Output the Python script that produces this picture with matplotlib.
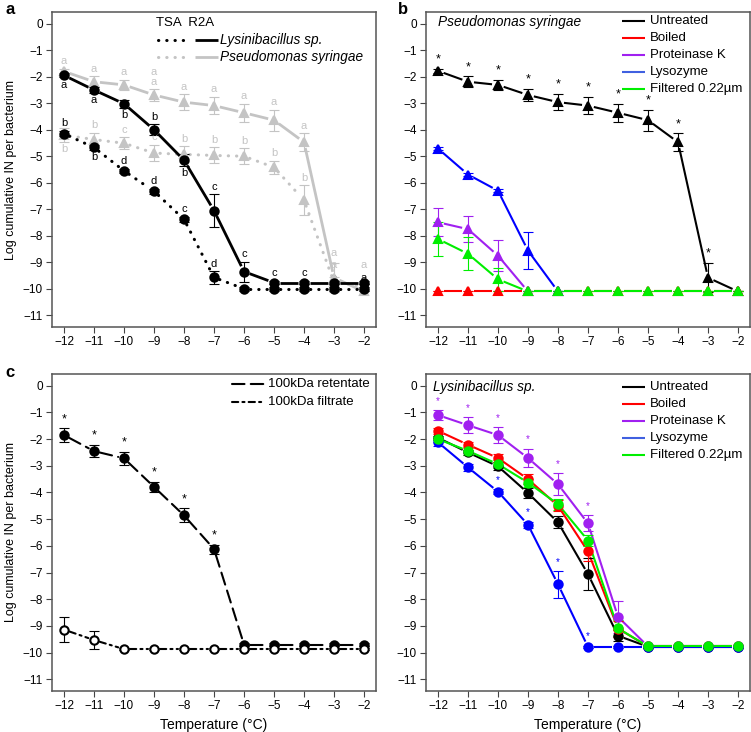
import numpy as np
import matplotlib
matplotlib.use("Agg")
import matplotlib.pyplot as plt

plt.rcParams['font.family'] = ['Liberation Sans', 'DejaVu Sans']

temps = [-12, -11, -10, -9, -8, -7, -6, -5, -4, -3, -2]

# panel a: Lysinibacillus / Pseudomonas on TSA and R2A
lys_r2a = [-1.95, -2.5, -3.02, -4.0, -5.15, -7.05, -9.35, -9.77, -9.77, -9.77, -9.77]
lys_r2a_err = [0.08, 0.1, 0.15, 0.2, 0.22, 0.62, 0.38, 0.06, 0.06, 0.06, 0.06]
lys_r2a_let = ['a', 'a', 'b', 'b', 'b', 'c', 'c', 'c', 'c', 'a', 'a']
lys_tsa = [-4.15, -4.67, -5.55, -6.32, -7.38, -9.57, -10.0, -10.0, -10.0, -10.0, -10.0]
lys_tsa_err = [0.1, 0.08, 0.07, 0.1, 0.1, 0.23, 0.07, 0.07, 0.07, 0.07, 0.07]
lys_tsa_let = ['b', 'b', 'd', 'd', 'c', 'd']
pse_r2a = [-1.8, -2.19, -2.31, -2.69, -2.96, -3.09, -3.36, -3.64, -4.47, -9.58, -10.1]
pse_r2a_err = [0.1, 0.2, 0.2, 0.22, 0.3, 0.33, 0.33, 0.4, 0.33, 0.55, 0.0]
pse_r2a_let = ['a', 'a', 'a', 'a\na', 'a', 'a', 'a', 'a', 'a', 'a', '']
pse_tsa = [-4.2, -4.37, -4.51, -4.88, -4.93, -4.97, -5.0, -5.42, -6.66, -9.75, -9.9]
pse_tsa_err = [0.25, 0.25, 0.22, 0.3, 0.3, 0.3, 0.3, 0.25, 0.56, 0.2, 0.1]
pse_tsa_let = ['b', 'b', 'c', 'c', 'b', 'b', 'b', 'b', 'b', 'a', 'a']

# panel b: Pseudomonas treatments
ps_untreated = [-1.78, -2.19, -2.31, -2.69, -2.96, -3.09, -3.36, -3.64, -4.47, -9.58, -10.1]
ps_untreated_err = [0.07, 0.2, 0.2, 0.22, 0.3, 0.33, 0.33, 0.4, 0.33, 0.55, 0.0]
ps_boiled = [-10.1] * 11
ps_protk_t = [-12, -11, -10, -9]
ps_protk = [-7.49, -7.75, -8.75, -10.1]
ps_protk_err = [0.53, 0.48, 0.58, 0.0]
ps_lyso_t = [-12, -11, -10, -9, -8]
ps_lyso = [-4.71, -5.69, -6.3, -8.56, -10.1]
ps_lyso_err = [0.05, 0.06, 0.06, 0.69, 0.0]
ps_filt = [-8.12, -8.68, -9.64, -10.1, -10.1, -10.1, -10.1, -10.1, -10.1, -10.1, -10.1]
ps_filt_err = [0.65, 0.62, 0.43, 0, 0, 0, 0, 0, 0, 0, 0]

# panel c: 100kDa fractions
retentate = [-1.85, -2.45, -2.72, -3.79, -4.86, -6.12, -9.7, -9.7, -9.7, -9.7, -9.7]
retentate_err = [0.25, 0.22, 0.24, 0.2, 0.26, 0.17, 0.05, 0.05, 0.05, 0.05, 0.05]
filtrate = [-9.14, -9.53, -9.87, -9.87, -9.87, -9.87, -9.87, -9.87, -9.87, -9.87, -9.87]
filtrate_err = [0.47, 0.34, 0.03, 0.03, 0.03, 0.03, 0.03, 0.03, 0.03, 0.03, 0.03]

# panel d: Lysinibacillus treatments
ly_untreated = [-1.95, -2.5, -3.02, -4.02, -5.12, -7.06, -9.37, -9.78, -9.78, -9.78, -9.78]
ly_untreated_err = [0.08, 0.1, 0.15, 0.2, 0.22, 0.6, 0.2, 0.05, 0.05, 0.05, 0.05]
ly_boiled = [-1.69, -2.21, -2.71, -3.5, -4.5, -6.21, -9.1, -9.77, -9.77, -9.77, -9.77]
ly_boiled_err = [0.1, 0.12, 0.15, 0.2, 0.2, 0.35, 0.3, 0.05, 0.05, 0.05, 0.05]
ly_protk = [-1.1, -1.48, -1.85, -2.71, -3.69, -5.16, -8.66, -9.77, -9.77, -9.77, -9.77]
ly_protk_err = [0.18, 0.3, 0.3, 0.35, 0.42, 0.3, 0.6, 0.05, 0.05, 0.05, 0.05]
ly_lyso = [-2.12, -3.06, -3.97, -5.21, -7.44, -9.79, -9.79, -9.79, -9.79, -9.79, -9.79]
ly_lyso_err = [0.15, 0.12, 0.1, 0.12, 0.5, 0.05, 0.05, 0.05, 0.05, 0.05, 0.05]
ly_filt = [-2.0, -2.44, -2.94, -3.63, -4.44, -5.8, -9.09, -9.77, -9.77, -9.77, -9.77]
ly_filt_err = [0.12, 0.15, 0.15, 0.15, 0.2, 0.2, 0.3, 0.05, 0.05, 0.05, 0.05]

treatments = ['Untreated', 'Boiled', 'Proteinase K', 'Lysozyme', 'Filtered 0.22µm']

GRAY = '#c4c4c4'
RED, PURPLE, BLUE, GREEN = '#ff0000', '#a020f0', '#0000ff', '#00ee00'
key_colors = ['black', RED, PURPLE, '#4060e0', GREEN]
DOT = (0, (0.1, 2.6))


def style(ax, ylabel=False, xlabel=False):
    ax.set_xlim(-12.4, -1.6)
    ax.set_ylim(-11.44, 0.44)
    ax.set_xticks(temps)
    ax.set_yticks(range(0, -12, -1))
    ax.tick_params(length=4.5, width=0.8, color='#444444', labelsize=8.5, pad=2)
    for s in ax.spines.values():
        s.set_color('#555555')
        s.set_linewidth(1.1)
    if ylabel:
        ax.set_ylabel('Log cumulative IN per bacterium', fontsize=9, labelpad=4)
    if xlabel:
        ax.set_xlabel('Temperature (°C)', fontsize=10, labelpad=4)


def series(ax, x, y, err, color, marker, ls='-', lw=1.5, ms=6, mfc=None, gap=6.0):
    # R type="b": segments stop short of the points (gap in pixels)
    pts = ax.transData.transform(np.column_stack([x, y]))
    inv = ax.transData.inverted()
    for p0, p1 in zip(pts[:-1], pts[1:]):
        d = p1 - p0
        L = np.hypot(*d)
        if L <= 2 * gap + 1:
            continue
        u = d / L
        seg = inv.transform(np.array([p0 + u * gap, p1 - u * gap]))
        ax.plot(seg[:, 0], seg[:, 1], color=color, lw=lw, linestyle=ls,
                dash_capstyle='round', solid_capstyle='butt', zorder=2)
    ax.errorbar(x, y, yerr=err, fmt='none', ecolor=color, elinewidth=0.8,
                capsize=3.5, capthick=0.8, zorder=3)
    ax.plot(x, y, ls='none', marker=marker, ms=ms, color=color,
            mfc=mfc if mfc else color, mew=1.5, zorder=4)


def letters(ax, x, y, err, labs, below, color, fixed=None):
    fixed = fixed or {}
    for i, (xi, yi, ei, lab) in enumerate(zip(x, y, err, labs)):
        if not lab:
            continue
        if i in fixed:
            ax.text(xi, fixed[i], lab, ha='center', va='center', fontsize=8, color=color)
        elif i in below:
            ax.text(xi, yi - ei - 0.08, lab, ha='center', va='top', fontsize=8, color=color)
        else:
            ax.text(xi, yi + ei + 0.1, lab, ha='center', va='bottom', fontsize=8,
                    color=color, linespacing=0.9)


def stars(ax, x, y, err, color, size=9):
    for xi, yi, ei in zip(x, y, err):
        ax.text(xi, yi + ei + 0.35, '*', ha='center', va='center', fontsize=size, color=color)


def key(ax, x0, x1, y, color, ls='-', lw=1.5):
    ax.plot([x0, x1], [y, y], transform=ax.transAxes, color=color, lw=lw,
            linestyle=ls, solid_capstyle='butt', dash_capstyle='round')


fig = plt.figure(figsize=(7.51, 7.32), dpi=100)
W, H = 751, 732
ax_a = fig.add_axes([52 / W, 1 - 327 / H, 324 / W, 315 / H])
ax_b = fig.add_axes([426 / W, 1 - 327 / H, 324 / W, 315 / H])
ax_c = fig.add_axes([52 / W, 1 - 691 / H, 324 / W, 317 / H])
ax_d = fig.add_axes([426 / W, 1 - 691 / H, 324 / W, 317 / H])
for ax, yl, xl in [(ax_a, True, False), (ax_b, False, False),
                   (ax_c, True, True), (ax_d, False, True)]:
    style(ax, ylabel=yl, xlabel=xl)

# ---- a
ax = ax_a
series(ax, temps, pse_tsa, pse_tsa_err, GRAY, '^', ls=DOT, lw=2.2)
series(ax, temps, pse_r2a, pse_r2a_err, GRAY, '^', lw=2)
series(ax, temps, lys_tsa, lys_tsa_err, 'black', 'o', ls=DOT, lw=2.2)
series(ax, temps, lys_r2a, lys_r2a_err, 'black', 'o', lw=2)
letters(ax, temps, pse_r2a, pse_r2a_err, pse_r2a_let, [], GRAY, fixed={9: -8.65})
letters(ax, temps, pse_tsa, pse_tsa_err, pse_tsa_let, [0], GRAY, fixed={9: -9.12, 10: -9.12})
letters(ax, temps, lys_tsa, lys_tsa_err, lys_tsa_let, [1], 'black')
letters(ax, temps, lys_r2a, lys_r2a_err, lys_r2a_let, [0, 1, 2, 4], 'black',
        fixed={9: -9.6, 10: -9.6})
ax.text(0.322, 0.966, 'TSA  R2A', transform=ax.transAxes, fontsize=9.5, va='center')
key(ax, 0.326, 0.43, 0.911, 'black', ls=DOT, lw=2.2)
key(ax, 0.44, 0.512, 0.911, 'black', lw=2)
key(ax, 0.326, 0.43, 0.858, GRAY, ls=DOT, lw=2.2)
key(ax, 0.44, 0.512, 0.858, GRAY, lw=2)
ax.text(0.52, 0.911, 'Lysinibacillus sp.', transform=ax.transAxes, fontsize=9.8,
        style='italic', va='center')
ax.text(0.52, 0.858, 'Pseudomonas syringae', transform=ax.transAxes, fontsize=9.8,
        style='italic', va='center')

# ---- b
ax = ax_b
series(ax, temps, ps_untreated, ps_untreated_err, 'black', '^')
series(ax, temps, ps_boiled, [0] * 11, RED, '^')
series(ax, ps_protk_t, ps_protk, ps_protk_err, PURPLE, '^')
series(ax, ps_lyso_t, ps_lyso, ps_lyso_err, BLUE, '^')
series(ax, temps, ps_filt, ps_filt_err, GREEN, '^')
stars(ax, temps[:10], ps_untreated[:10], ps_untreated_err[:10], 'black')
ax.text(0.037, 0.967, 'Pseudomonas syringae', transform=ax.transAxes, fontsize=9.8,
        style='italic', va='center')
for i, (lab, c) in enumerate(zip(treatments, key_colors)):
    yy = 0.972 - i * 0.054
    key(ax, 0.605, 0.676, yy, c)
    ax.text(0.69, yy, lab, transform=ax.transAxes, fontsize=9.5, va='center')

# ---- c
ax = ax_c
series(ax, temps, retentate, retentate_err, 'black', 'o', ls=(0, (6, 3)))
series(ax, temps, filtrate, filtrate_err, 'black', 'o', ls=(0, (3, 2, 1, 2)), mfc='white')
stars(ax, temps[:6], retentate[:6], retentate_err[:6], 'black')
key(ax, 0.555, 0.658, 0.967, 'black', ls=(0, (6, 3)))
key(ax, 0.555, 0.658, 0.912, 'black', ls=(0, (3, 2, 1, 2)))
ax.text(0.668, 0.967, '100kDa retentate', transform=ax.transAxes, fontsize=9.5, va='center')
ax.text(0.668, 0.912, '100kDa filtrate', transform=ax.transAxes, fontsize=9.5, va='center')

# ---- d
ax = ax_d
series(ax, temps, ly_untreated, ly_untreated_err, 'black', 'o')
series(ax, temps, ly_boiled, ly_boiled_err, RED, 'o')
series(ax, temps, ly_protk, ly_protk_err, PURPLE, 'o')
series(ax, temps, ly_lyso, ly_lyso_err, BLUE, 'o')
series(ax, temps, ly_filt, ly_filt_err, GREEN, 'o')
stars(ax, temps[:6], ly_protk[:6], ly_protk_err[:6], PURPLE, size=7)
stars(ax, temps[2:6], ly_lyso[2:6], ly_lyso_err[2:6], BLUE, size=7)
ax.text(0.022, 0.96, 'Lysinibacillus sp.', transform=ax.transAxes, fontsize=9.8,
        style='italic', va='center')
for i, (lab, c) in enumerate(zip(treatments, key_colors)):
    yy = 0.96 - i * 0.054
    key(ax, 0.605, 0.676, yy, c)
    ax.text(0.69, yy, lab, transform=ax.transAxes, fontsize=9.5, va='center')

fig.text(5 / W, 1 - 10 / H, 'a', fontsize=12, fontweight='bold', va='center')
fig.text(398 / W, 1 - 10 / H, 'b', fontsize=12, fontweight='bold', va='center')
fig.text(5 / W, 1 - 373 / H, 'c', fontsize=12, fontweight='bold', va='center')

fig.savefig('out.png', dpi=100)
